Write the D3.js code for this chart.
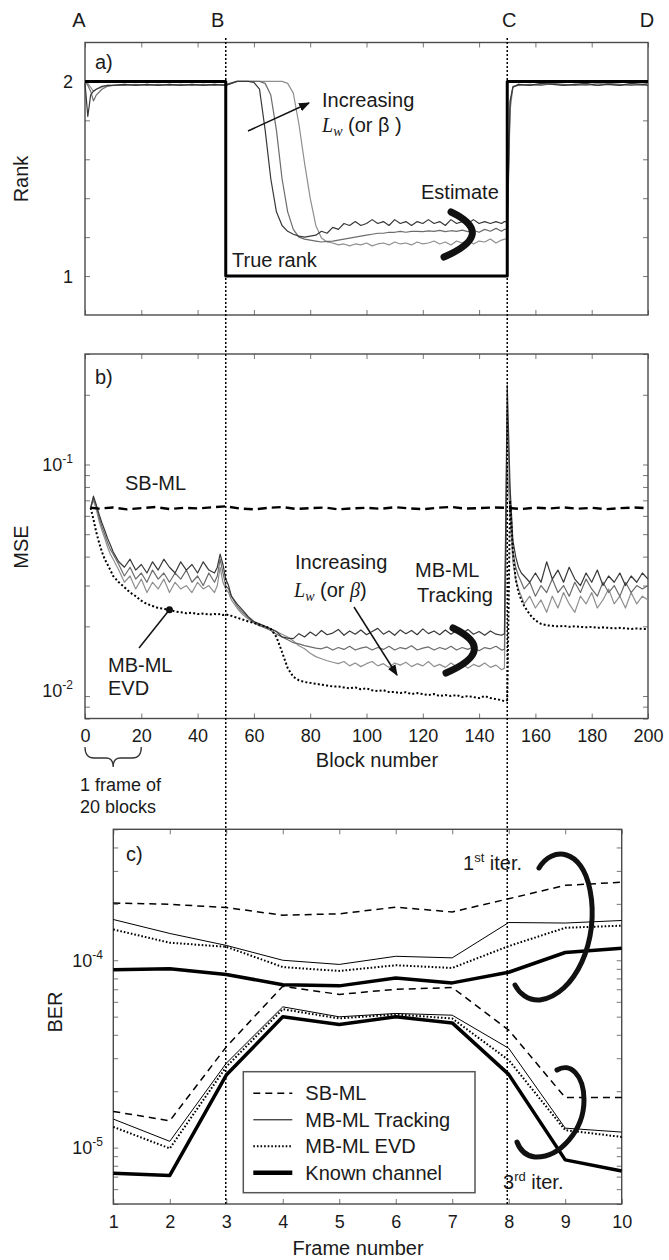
<!DOCTYPE html>
<meta charset="utf-8">
<style>
  body { margin: 0; background: #fff; }
  svg text { font-family: "Liberation Sans", Arial, Helvetica, sans-serif; fill: #1a1a1a; }
  .frame { fill: none; stroke: #4a4a4a; stroke-width: 1.4px; }
  .ax line { stroke: #777; stroke-width: 1px; }
  .ax path { display: none; }
  .ax text { font-size: 18px; }
  .curve { fill: none; stroke-linejoin: round; }
  .note { font-size: 20px; }
</style>
<body>
<script src="https://d3js.org/d3.v7.min.js"></script>
<script>

  // ---------- a) rank vs block number ----------
  var rankBlocks = [0,1,2,3,4,6,8,10,
    14,18,22,26,30,34,38,42,46,50,
    54,58,
    60,62,64,66,68,70,72,74,76,78,
    80,82,84,86,88,90,92,94,96,98,
    100,102,104,106,108,110,112,114,116,118,
    120,122,124,126,128,130,132,134,136,138,
    140,142,144,146,148,
    149,150,151,152,
    154,158,162,166,170,174,178,182,186,190,194,198,
    200];
  var rankLw1 = [1.99,1.82,1.93,1.95,1.96,1.975,1.98,1.98,
    1.985,1.98,1.985,1.98,1.985,1.98,1.985,1.98,1.985,1.98,
    2.0,2.0,
    1.995,1.96,1.75,1.5,1.33,1.26,1.23,1.215,1.205,1.2,
    1.205,1.21,1.23,1.22,1.25,1.24,1.27,1.26,1.28,1.26,
    1.27,1.29,1.27,1.28,1.26,1.29,1.27,1.28,1.26,1.28,
    1.27,1.29,1.27,1.28,1.26,1.29,1.27,1.28,1.27,1.29,
    1.27,1.28,1.27,1.28,1.27,
    1.28,1.28,1.9,1.97,
    1.985,1.98,1.99,1.985,1.98,1.985,1.99,1.98,1.985,1.98,1.99,1.985,
    1.98];
  var rankLw2 = [2.0,1.98,1.95,1.9,1.93,1.96,1.975,1.98,
    1.98,1.985,1.98,1.985,1.98,1.985,1.98,1.985,1.98,1.985,
    2.0,2.0,
    2.0,2.0,1.99,1.93,1.75,1.5,1.33,1.24,1.2,1.19,
    1.185,1.18,1.175,1.178,1.18,1.185,1.19,1.195,1.2,1.205,
    1.21,1.215,1.22,1.22,1.225,1.225,1.23,1.225,1.23,1.23,
    1.228,1.232,1.23,1.235,1.228,1.233,1.23,1.236,1.228,1.235,
    1.225,1.24,1.23,1.245,1.23,
    1.24,1.24,1.88,1.975,
    1.98,1.985,1.98,1.99,1.985,1.98,1.985,1.98,1.99,1.985,1.98,1.985,
    1.99];
  var rankLw3 = [2.0,1.99,1.97,1.95,1.96,1.97,1.98,1.98,
    1.985,1.98,1.985,1.98,1.985,1.98,1.985,1.98,1.985,1.98,
    2.0,2.0,
    2.0,2.0,2.0,2.0,2.0,2.0,1.99,1.94,1.78,1.58,
    1.4,1.26,1.195,1.175,1.17,1.16,1.165,1.155,1.165,1.16,
    1.17,1.155,1.165,1.17,1.16,1.175,1.165,1.17,1.16,1.175,
    1.165,1.17,1.18,1.165,1.175,1.16,1.18,1.17,1.185,1.165,
    1.18,1.175,1.19,1.17,1.185,
    1.19,1.19,1.85,1.97,
    1.985,1.98,1.985,1.99,1.98,1.985,1.98,1.99,1.985,1.98,1.985,1.98,
    1.985];
  var trueBlocks = [0,50,50,150,150,200];
  var trueRank = [2,2,1,1,2,2];

  // ---------- b) MSE vs block number ----------
  var mseBlocks = [2,3,4,5,6,7,8,9,10,
    12,14,16,18,20,22,24,26,28,30,32,34,36,38,40,42,44,46,
    47,48,49,50,51,52,
    54,56,58,60,62,64,66,68,70,72,74,76,78,80,82,84,86,88,90,92,94,96,98,100,
    102,104,106,108,110,112,114,116,118,120,122,124,126,128,130,132,134,136,138,140,142,144,146,148,
    149,150,151,152,153,154,155,156,
    158,160,162,164,166,168,170,172,174,176,178,180,182,184,186,188,190,192,194,196,198,200];
  var mseLw1 = [0.065,0.073,0.067,0.061,0.056,0.052,0.048,0.045,0.042,
    0.038,0.036,0.039,0.035,0.037,0.034,0.038,0.035,0.039,0.036,0.034,0.038,0.035,0.037,0.034,0.038,0.035,0.034,
    0.036,0.041,0.037,0.032,0.030,0.027,
    0.025,0.0235,0.022,0.021,0.0205,0.020,0.0195,0.019,0.018,0.0178,0.0177,0.0186,0.018,0.0189,0.0182,0.0192,0.0184,0.0187,0.0194,0.0183,0.0191,0.0185,0.0193,0.0184,
    0.019,0.0196,0.0185,0.0191,0.0183,0.0193,0.0186,0.0192,0.0184,0.0195,0.0186,0.0191,0.0184,0.0193,0.0185,0.0192,0.0186,0.0194,0.0185,0.019,0.0183,0.0191,0.0185,0.0183,
    0.0186,0.22,0.08,0.047,0.04,0.036,0.034,0.033,
    0.031,0.034,0.031,0.038,0.032,0.035,0.031,0.036,0.032,0.030,0.034,0.031,0.035,0.030,0.033,0.031,0.034,0.030,0.033,0.031,0.034,0.032];
  var mseLw2 = [0.065,0.071,0.066,0.059,0.054,0.05,0.046,0.043,0.041,
    0.037,0.033,0.036,0.032,0.034,0.031,0.035,0.032,0.034,0.031,0.034,0.032,0.035,0.031,0.033,0.030,0.034,0.031,
    0.033,0.039,0.034,0.030,0.029,0.027,
    0.0245,0.023,0.0218,0.0208,0.0202,0.0197,0.0192,0.0185,0.018,0.0175,0.017,0.0168,0.0165,0.0163,0.0161,0.016,0.0163,0.0158,0.0162,0.0159,0.0164,0.0158,0.0161,0.0163,
    0.0158,0.0162,0.0159,0.0164,0.0158,0.0162,0.016,0.0165,0.0158,0.0161,0.0163,0.0158,0.0162,0.0159,0.0164,0.0158,0.0162,0.0159,0.0163,0.0157,0.0162,0.016,0.0164,0.0158,
    0.0159,0.17,0.07,0.042,0.036,0.033,0.031,0.029,
    0.031,0.027,0.030,0.028,0.032,0.028,0.030,0.027,0.031,0.028,0.032,0.029,0.027,0.031,0.028,0.030,0.027,0.031,0.028,0.030,0.029,0.030];
  var mseLw3 = [0.065,0.070,0.064,0.057,0.052,0.048,0.044,0.041,0.039,
    0.035,0.031,0.033,0.029,0.032,0.028,0.031,0.029,0.032,0.028,0.031,0.029,0.030,0.028,0.031,0.029,0.030,0.028,
    0.030,0.036,0.031,0.029,0.028,0.026,
    0.024,0.0225,0.0215,0.0207,0.0201,0.0198,0.0195,0.019,0.0185,0.018,0.0173,0.0165,0.016,0.0153,0.0148,0.0145,0.0142,0.014,0.0138,0.0141,0.0135,0.0139,0.0134,0.0138,
    0.0141,0.0135,0.0138,0.0133,0.0139,0.0136,0.014,0.0134,0.0138,0.0135,0.0141,0.0134,0.0137,0.0133,0.0139,0.0134,0.0138,0.0132,0.0137,0.0134,0.0139,0.0133,0.0136,0.013,
    0.0132,0.10,0.06,0.038,0.032,0.029,0.027,0.025,
    0.027,0.024,0.026,0.023,0.027,0.024,0.028,0.025,0.023,0.027,0.025,0.028,0.024,0.026,0.029,0.025,0.027,0.024,0.028,0.025,0.027,0.026];
  var mseEvd = [0.065,0.058,0.051,0.046,0.042,0.039,0.037,0.035,0.033,
    0.031,0.0295,0.028,0.027,0.0258,0.025,0.0245,0.024,0.0238,0.0236,0.0232,0.023,0.0228,0.0229,0.0226,0.0227,0.0225,0.0226,
    0.0225,0.0226,0.0224,0.0225,0.0224,0.0222,
    0.0218,0.0214,0.021,0.0207,0.0203,0.02,0.0195,0.018,0.0155,0.0132,0.0121,0.0117,0.0115,0.0114,0.0113,0.0112,0.0111,0.011,0.011,0.0109,0.0108,0.0109,0.0107,0.0108,
    0.0106,0.0105,0.0106,0.0104,0.0104,0.0103,0.0104,0.0102,0.0103,0.0102,0.0101,0.0102,0.01,0.0101,0.01,0.0101,0.0099,0.01,0.0099,0.0098,0.01,0.0098,0.0097,0.0096,
    0.0095,0.0096,0.07,0.042,0.032,0.028,0.026,0.0245,
    0.0225,0.0212,0.0205,0.0202,0.0201,0.02,0.0201,0.0199,0.02,0.0199,0.0198,0.0199,0.0197,0.0198,0.0197,0.0196,0.0197,0.0196,0.0195,0.0196,0.0195,0.0195];
  var sbBlocks = [2,5,10,15,20,25,30,35,40,45,50,55,60,65,70,75,80,85,90,95,100,
    105,110,115,120,125,130,135,140,145,150,155,160,165,170,175,180,185,190,195,200];
  var sbMse = [0.0650,0.0645,0.0652,0.0640,0.0648,0.0655,0.0642,0.0650,0.0646,0.0653,0.0660,
    0.0645,0.0640,0.0650,0.0655,0.0643,0.0648,0.0652,0.0640,0.0646,0.0650,
    0.0644,0.0654,0.0647,0.0641,0.0650,0.0656,0.0645,0.0648,0.0652,0.0650,
    0.0642,0.0651,0.0646,0.0653,0.0644,0.0650,0.0641,0.0648,0.0652,0.0647];

  // ---------- c) BER vs frame number ----------
  var frames = [1,2,3,4,5,6,7,8,9,10];
  var ber1Sb    = [2.02e-4,1.99e-4,1.91e-4,1.74e-4,1.77e-4,1.92e-4,1.81e-4,2.13e-4,2.51e-4,2.61e-4];
  var ber1Track = [1.65e-4,1.39e-4,1.20e-4,1.00e-4,0.95e-4,1.05e-4,1.03e-4,1.59e-4,1.58e-4,1.63e-4];
  var ber1Evd   = [1.46e-4,1.24e-4,1.18e-4,0.92e-4,0.877e-4,0.94e-4,0.91e-4,1.19e-4,1.49e-4,1.53e-4];
  var ber1Known = [0.89e-4,0.90e-4,0.84e-4,0.74e-4,0.73e-4,0.805e-4,0.757e-4,0.863e-4,1.10e-4,1.16e-4];
  var ber3Sb    = [1.56e-5,1.39e-5,3.45e-5,7.27e-5,6.57e-5,7.0e-5,7.15e-5,4.24e-5,1.85e-5,1.85e-5];
  var ber3Track = [1.42e-5,1.08e-5,2.82e-5,5.64e-5,4.99e-5,5.2e-5,5.09e-5,3.39e-5,1.27e-5,1.21e-5];
  var ber3Evd   = [1.29e-5,0.99e-5,2.70e-5,5.48e-5,4.89e-5,5.14e-5,4.89e-5,2.93e-5,1.24e-5,1.14e-5];
  var ber3Known = [7.3e-6,7.1e-6,2.44e-5,4.99e-5,4.54e-5,4.99e-5,4.63e-5,2.46e-5,8.6e-6,7.5e-6];

  var blockTicks = [0,20,40,60,80,100,120,140,160,180,200];
  var rankTicks = [1,1.2,1.4,1.6,1.8,2];
  var mseTicks = [0.008,0.009,0.01,0.02,0.03,0.04,0.05,0.06,0.07,0.08,0.09,0.1,0.2,0.3];
  var berTicks = [5e-6,6e-6,7e-6,8e-6,9e-6,1e-5,2e-5,3e-5,4e-5,5e-5,6e-5,7e-5,8e-5,9e-5,1e-4,2e-4,3e-4,4e-4,5e-4];
  var markers = [["A",0],["B",50],["C",150],["D",200]];
  var legendItems = ["SB-ML","MB-ML Tracking","MB-ML EVD","Known channel"];

  var svg = d3.select("body").append("svg").attr("width", 669).attr("height", 1260);

  var xBlock = d3.scaleLinear().domain([0, 200]).range([85, 648]);
  var yRank = d3.scaleLinear().domain([0.8, 2.2]).range([315, 42.5]);
  var yMse = d3.scaleLog().domain([0.008, 0.3]).range([718.5, 354]);
  var xFrame = d3.scaleLinear().domain([1, 10]).range([113.3, 621.7]);
  var yBer = d3.scaleLog().domain([5e-6, 5e-4]).range([1204, 829.3]);

  var none = function(){ return ""; };

  function box(x, y, xt, yt, xLab){
    var x0 = x.range()[0], x1 = x.range()[1], y0 = y.range()[1], y1 = y.range()[0];
    var g = svg.append("g");
    g.append("g").attr("class","ax").attr("transform","translate(0,"+y1+")")
      .call(d3.axisBottom(x).tickValues(xt).tickSize(-5).tickPadding(11).tickFormat(xLab ? d3.format("d") : none));
    g.append("g").attr("class","ax").attr("transform","translate(0,"+y0+")")
      .call(d3.axisTop(x).tickValues(xt).tickSize(-5).tickFormat(none));
    g.append("g").attr("class","ax").attr("transform","translate("+x0+",0)")
      .call(d3.axisLeft(y).tickValues(yt).tickSize(-5).tickFormat(none));
    g.append("g").attr("class","ax").attr("transform","translate("+x1+",0)")
      .call(d3.axisRight(y).tickValues(yt).tickSize(-5).tickFormat(none));
    g.append("rect").attr("class","frame").attr("x",x0).attr("y",y0)
      .attr("width",x1-x0).attr("height",y1-y0);
    return g;
  }

  function pow10(g, x, y, exp){
    var t = g.append("text").attr("x",x).attr("y",y).attr("text-anchor","end").style("font-size","18px");
    t.append("tspan").text("10");
    t.append("tspan").attr("dy",-8).style("font-size","12px").text(exp);
  }

  function yTitle(txt, x, y){
    svg.append("text").attr("transform","translate("+x+","+y+") rotate(-90)")
      .attr("text-anchor","middle").attr("dy","0.35em").style("font-size","20px").text(txt);
  }

  function note(g, txt, x, y){
    return g.append("text").attr("class","note").attr("x",x).attr("y",y).text(txt);
  }

  function lw(g, x, y, betaItalic){
    var t = g.append("text").attr("class","note").attr("x",x).attr("y",y);
    t.append("tspan").style("font-family","'Liberation Serif', 'Times New Roman', serif")
      .style("font-style","italic").text("L");
    t.append("tspan").style("font-family","'Liberation Serif', 'Times New Roman', serif")
      .style("font-style","italic").style("font-size","14px").attr("dy",4).text("w");
    t.append("tspan").attr("dy",-4).text(" (or ");
    var b = t.append("tspan").text("\u03b2");
    if (betaItalic) b.style("font-family","'Liberation Serif', 'Times New Roman', serif").style("font-style","italic");
    t.append("tspan").text(betaItalic ? ")" : " )");
  }

  var defs = svg.append("defs");
  defs.append("marker").attr("id","arr").attr("viewBox","0 0 10 10").attr("refX",9).attr("refY",5)
    .attr("markerUnits","userSpaceOnUse").attr("markerWidth",11).attr("markerHeight",11).attr("orient","auto")
    .append("path").attr("d","M0,1L10,5L0,9Z").attr("fill","#111");

  function arrow(g, x1, y1, x2, y2){
    g.append("line").attr("x1",x1).attr("y1",y1).attr("x2",x2).attr("y2",y2)
      .attr("stroke","#111").attr("stroke-width",1.5).attr("marker-end","url(#arr)");
  }

  function brace(g, x, y){
    // thick ")" mark, top end at (x,y)
    g.append("path").attr("transform","translate("+x+","+y+")")
      .attr("d","M0,1 Q46,23 -7,46").attr("fill","none").attr("stroke","#111")
      .attr("stroke-width",7).attr("stroke-linecap","round");
  }

  // ===== panel a =====
  var ga = box(xBlock, yRank, blockTicks, rankTicks, false);
  var lineRank = d3.line().x(function(d){ return xBlock(d[0]); }).y(function(d){ return yRank(d[1]); });
  [[rankLw3,"#8f8f8f"],[rankLw2,"#6c6c6c"],[rankLw1,"#383838"]].forEach(function(s){
    ga.append("path").attr("class","curve").attr("d", lineRank(d3.zip(rankBlocks, s[0])))
      .attr("stroke", s[1]).attr("stroke-width", 1.2);
  });
  ga.append("path").attr("class","curve").attr("d", lineRank(d3.zip(trueBlocks, trueRank)))
    .attr("stroke","#000").attr("stroke-width",3).attr("stroke-linejoin","miter");

  ga.selectAll(".rlab").data([1,2]).join("text").attr("class","rlab")
    .attr("x",73).attr("y",function(d){ return yRank(d)+6.5; }).attr("text-anchor","end")
    .style("font-size","18px").text(function(d){ return d; });
  yTitle("Rank", 20.5, 179);
  note(ga, "a)", 95, 68.5);
  note(ga, "Increasing", 322, 107);
  lw(ga, 322, 132, false);
  arrow(ga, 248, 131, 309, 103);
  note(ga, "Estimate", 421, 199);
  brace(ga, 451, 211);
  note(ga, "True rank", 232, 267);

  svg.selectAll(".mk").data(markers).join("text").attr("class","mk")
    .attr("x",function(d){ return xBlock(d[1]) + (d[1]===0 ? -6 : d[1]===50 ? -8 : d[1]===150 ? 2 : -1); })
    .attr("y",27).attr("text-anchor","middle").style("font-size","20px").text(function(d){ return d[0]; });

  // ===== panel b =====
  var gb = box(xBlock, yMse, blockTicks, mseTicks, true);
  var lineMse = d3.line().x(function(d){ return xBlock(d[0]); }).y(function(d){ return yMse(d[1]); });
  [[mseLw3,"#8f8f8f"],[mseLw2,"#6c6c6c"],[mseLw1,"#383838"]].forEach(function(s){
    gb.append("path").attr("class","curve").attr("d", lineMse(d3.zip(mseBlocks, s[0])))
      .attr("stroke", s[1]).attr("stroke-width", 1.2);
  });
  gb.append("path").attr("class","curve").attr("d", lineMse(d3.zip(mseBlocks, mseEvd)))
    .attr("stroke","#000").attr("stroke-width",2).attr("stroke-dasharray","2,2.2");
  gb.append("path").attr("class","curve").attr("d", lineMse(d3.zip(sbBlocks, sbMse)))
    .attr("stroke","#000").attr("stroke-width",2.4).attr("stroke-dasharray","9,5");

  pow10(gb, 73, yMse(0.1)+6.5, "-1");
  pow10(gb, 73, yMse(0.01)+0.5, "-2");
  yTitle("MSE", 20.5, 547);
  note(gb, "b)", 95, 384);
  note(gb, "SB-ML", 125, 490);
  note(gb, "Increasing", 295, 569);
  lw(gb, 294, 597, true);
  arrow(gb, 354, 607, 397, 675);
  note(gb, "MB-ML", 415, 577);
  note(gb, "Tracking", 417, 602);
  brace(gb, 453, 627);
  note(gb, "MB-ML", 108, 672);
  note(gb, "EVD", 108, 695);
  gb.append("line").attr("x1",139).attr("y1",648).attr("x2",xBlock(30)).attr("y2",yMse(mseEvd[mseBlocks.indexOf(30)]))
    .attr("stroke","#111").attr("stroke-width",1.5);
  gb.append("circle").attr("cx",xBlock(30)).attr("cy",yMse(mseEvd[mseBlocks.indexOf(30)])).attr("r",3.5).attr("fill","#111");
  svg.append("text").attr("x",377).attr("y",767).attr("text-anchor","middle").style("font-size","20px").text("Block number");

  // brace under the first frame of 20 blocks
  var bx0 = xBlock(0), bx1 = xBlock(20), bm = (bx0 + bx1) / 2;
  svg.append("path").attr("fill","none").attr("stroke","#333").attr("stroke-width",1.3)
    .attr("d","M"+bx0+",747 Q"+bx0+",758 "+(bx0+9)+",758 L"+(bm-7)+",758 Q"+bm+",758 "+bm+",767 Q"+bm+",758 "+(bm+7)+",758 L"+(bx1-9)+",758 Q"+bx1+",758 "+bx1+",747");
  svg.append("text").attr("x",80).attr("y",791).style("font-size","18px").text("1 frame of");
  svg.append("text").attr("x",80).attr("y",813).style("font-size","18px").text("20 blocks");

  // ===== panel c =====
  var gc = box(xFrame, yBer, frames, berTicks, true);
  var lineBer = d3.line().x(function(d){ return xFrame(d[0]); }).y(function(d){ return yBer(d[1]); });
  var styles = [
    {w:1.5, dash:"7,5"},
    {w:1, dash:null},
    {w:2, dash:"1.6,2"},
    {w:3.5, dash:null}
  ];
  [[ber1Sb,ber1Track,ber1Evd,ber1Known],[ber3Sb,ber3Track,ber3Evd,ber3Known]].forEach(function(set){
    set.forEach(function(v, i){
      gc.append("path").attr("class","curve").attr("d", lineBer(d3.zip(frames, v)))
        .attr("stroke","#000").attr("stroke-width",styles[i].w).attr("stroke-dasharray",styles[i].dash);
    });
  });
  pow10(gc, 103, yBer(1e-4)+6.5, "-4");
  pow10(gc, 103, yBer(1e-5)+6.5, "-5");
  yTitle("BER", 55, 1012);
  svg.append("text").attr("x",358).attr("y",1255).attr("text-anchor","middle").style("font-size","20px").text("Frame number");
  note(gc, "c)", 126, 861);

  var it1 = gc.append("text").attr("class","note").attr("x",463).attr("y",870);
  it1.append("tspan").text("1");
  it1.append("tspan").attr("dy",-8).style("font-size","13px").text("st");
  it1.append("tspan").attr("dy",8).text(" iter.");
  var it3 = gc.append("text").attr("class","note").attr("x",503).attr("y",1189);
  it3.append("tspan").text("3");
  it3.append("tspan").attr("dy",-8).style("font-size","13px").text("rd");
  it3.append("tspan").attr("dy",8).text(" iter.");

  gc.append("path").attr("fill","none").attr("stroke","#111").attr("stroke-width",5).attr("stroke-linecap","round")
    .attr("d","M539,868 C552,846 582,848 590,890 C600,940 575,995 540,1000 C528,1001 519,993 515,985");
  gc.append("path").attr("fill","none").attr("stroke","#111").attr("stroke-width",5).attr("stroke-linecap","round")
    .attr("d","M557,1070 C570,1062 584,1075 584,1100 C584,1130 560,1158 535,1157 C526,1156 520,1150 517,1142");

  // legend
  var lg = gc.append("g").attr("transform","translate(243.3,1071.7)");
  lg.append("rect").attr("width",231.7).attr("height",121).attr("fill","#fff").attr("stroke","#555").attr("stroke-width",1.5);
  legendItems.forEach(function(name, i){
    var yy = 21.6 + i * 26.5;
    lg.append("line").attr("x1",10).attr("x2",49).attr("y1",yy).attr("y2",yy)
      .attr("stroke","#000").attr("stroke-width",i===3 ? 4.5 : styles[i].w).attr("stroke-dasharray",styles[i].dash);
    lg.append("text").attr("x",62).attr("y",yy+7).style("font-size","20px").text(name);
  });

  // dotted guides at B and C running through all panels
  [50,150].forEach(function(b){
    svg.append("line").attr("x1",xBlock(b)).attr("x2",xBlock(b)).attr("y1",38).attr("y2",yBer.range()[0])
      .attr("stroke","#000").attr("stroke-width",1.5).attr("stroke-dasharray","2,2");
  });

</script>
</body>
</html>
